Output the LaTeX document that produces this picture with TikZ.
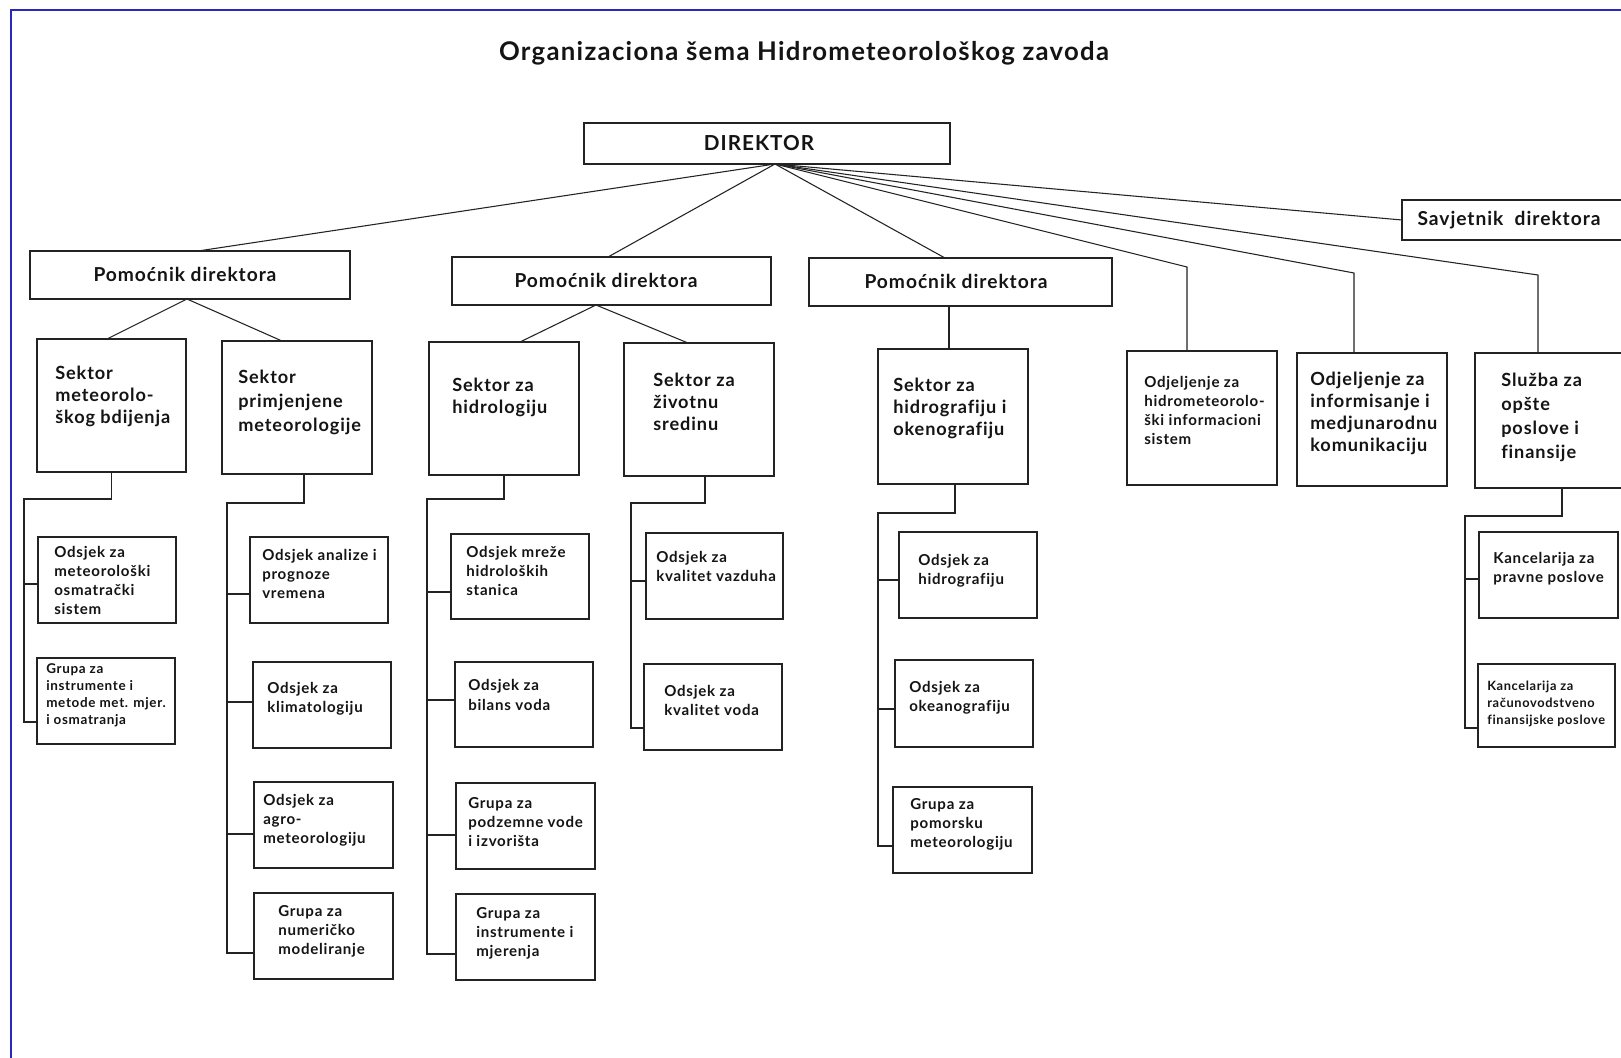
\documentclass[tikz,border=0pt]{standalone}
\usepackage{fontspec}
\setmainfont{Lato}[LetterSpace=5,Ligatures=CommonOff]
\usetikzlibrary{fit,calc}
\definecolor{linec}{RGB}{35,35,35}
\definecolor{txtc}{RGB}{20,20,20}
\definecolor{framec}{RGB}{40,40,190}
\newcommand\mlines[1]{\begin{tabular}[t]{@{}l@{}}#1\end{tabular}}
\newcommand\ftitle{\fontsize{19.3}{22}\selectfont\bfseries}
\newcommand\fdir{\fontsize{15.5}{18}\selectfont\bfseries}
\newcommand\fhead{\fontsize{14.4}{17}\selectfont\bfseries}
\newcommand\fbig{\fontsize{13.6}{16.5}\selectfont\bfseries}
\newcommand\fbigw{\fontsize{13.6}{18}\selectfont\bfseries}
\newcommand\fmed{\fontsize{11.3}{14.25}\selectfont\bfseries}
\newcommand\fmedw{\fontsize{11.3}{15.5}\selectfont\bfseries}
\newcommand\fsml{\fontsize{10.1}{12.75}\selectfont\bfseries}
\newcommand\fsmlx{\fontsize{9.6}{12.75}\selectfont\bfseries}
\tikzset{
  box/.style={draw=linec, line width=1.1pt, inner sep=0pt, outer sep=0pt},
  conn/.style={draw=linec, line width=0.9pt},
  thinconn/.style={draw=linec, line width=0.8pt},
  tx/.style={anchor=base west, inner sep=0pt, text=txtc},
  ctx/.style={anchor=base, inner sep=0pt, text=txtc},
}
\begin{document}
\begin{tikzpicture}[x=0.75pt,y=-0.75pt]
\useasboundingbox (0,0) rectangle (1621,1057);
\clip (0,0) rectangle (1621,1057);
\fill[white] (0,0) rectangle (1621,1057);
\draw[framec, line width=1.2pt] (11,1070) -- (11,10) -- (1640,10);

% title
\node[ctx, font=\ftitle] (title) at (804,60) {Organizaciona šema Hidrometeorološkog zavoda};

% top level boxes
\node[box, fit={(584,123) (950,164)}] (dir) {};
\node[ctx, font=\fdir] (t-dir) at (759,150) {DIREKTOR};
\node[box, fit={(1402,200) (1640,240)}] (sav) {};
\node[ctx, font=\fhead] (t-sav) at (1509,225) {Savjetnik\ \ direktora};

\node[box, fit={(30,251) (350,299)}] (p1) {};
\node[ctx, font=\fhead] (t-p1) at (185,281) {Pomoćnik direktora};
\node[box, fit={(452,257) (771,305)}] (p2) {};
\node[ctx, font=\fhead] (t-p2) at (606,287) {Pomoćnik direktora};
\node[box, fit={(809,258) (1112,306)}] (p3) {};
\node[ctx, font=\fhead] (t-p3) at (956,288) {Pomoćnik direktora};

% sectors
\node[box, fit={(37,339) (186,472)}] (smet) {};
\node[tx, font=\fbig] (t-smet) at (55,379) {\mlines{Sektor\\meteorolo-\\škog bdijenja}};
\node[box, fit={(222,341) (372,474)}] (sprim) {};
\node[tx, font=\fbigw] (t-sprim) at (238,383) {\mlines{Sektor\\primjenjene\\meteorologije}};
\node[box, fit={(429,342) (579,475)}] (shid) {};
\node[tx, font=\fbig] (t-shid) at (452,391) {\mlines{Sektor za\\hidrologiju}};
\node[box, fit={(624,343) (774,476)}] (sziv) {};
\node[tx, font=\fbig] (t-sziv) at (653,386) {\mlines{Sektor za\\životnu\\sredinu}};
\node[box, fit={(878,349) (1028,484)}] (shgr) {};
\node[tx, font=\fbig] (t-shgr) at (893,391) {\mlines{Sektor za\\hidrografiju i\\okenografiju}};
\node[box, fit={(1127,351) (1277,485)}] (ohim) {};
\node[tx, font=\fmed] (t-ohim) at (1144,387) {\mlines{Odjeljenje za\\hidrometeorolo-\\ški informacioni\\sistem}};
\node[box, fit={(1297,353) (1447,486)}] (oinf) {};
\node[tx, font=\fbig] (t-oinf) at (1310,385) {\mlines{Odjeljenje za\\informisanje i\\medjunarodnu\\komunikaciju}};
\node[box, fit={(1475,353) (1640,488)}] (sluz) {};
\node[tx, font=\fbigw] (t-sluz) at (1501,386) {\mlines{Služba za\\opšte\\poslove i\\finansije}};

% sub units
\node[box, fit={(38,537) (176,623)}] (a1) {};
\node[tx, font=\fmed] (t-a1) at (54,557) {\mlines{Odsjek za\\meteorološki\\osmatrački\\sistem}};
\node[box, fit={(37,658) (175,744)}] (a2) {};
\node[tx, font=\fsml] (t-a2) at (46,673) {\mlines{Grupa za\\instrumente i\\metode met. mjer.\\i osmatranja}};

\node[box, fit={(250,537) (388,623)}] (b1) {};
\node[tx, font=\fmed] (t-b1) at (262,560) {\mlines{Odsjek analize i\\prognoze\\vremena}};
\node[box, fit={(253,662) (391,748)}] (b2) {};
\node[tx, font=\fmed] (t-b2) at (267,693) {\mlines{Odsjek za\\klimatologiju}};
\node[box, fit={(254,782) (393,868)}] (b3) {};
\node[tx, font=\fmed] (t-b3) at (263,805) {\mlines{Odsjek za\\agro-\\meteorologiju}};
\node[box, fit={(254,893) (393,979)}] (b4) {};
\node[tx, font=\fmed] (t-b4) at (278,916) {\mlines{Grupa za\\numeričko\\modeliranje}};

\node[box, fit={(451,534) (589,619)}] (c1) {};
\node[tx, font=\fmed] (t-c1) at (466,557) {\mlines{Odsjek mreže\\hidroloških\\stanica}};
\node[box, fit={(455,662) (593,747)}] (c2) {};
\node[tx, font=\fmedw] (t-c2) at (468,690) {\mlines{Odsjek za\\bilans voda}};
\node[box, fit={(456,783) (595,869)}] (c3) {};
\node[tx, font=\fmed] (t-c3) at (468,808) {\mlines{Grupa za\\podzemne vode\\i izvorišta}};
\node[box, fit={(456,894) (595,980)}] (c4) {};
\node[tx, font=\fmed] (t-c4) at (476,918) {\mlines{Grupa za\\instrumente i\\mjerenja}};

\node[box, fit={(646,533) (783,619)}] (d1) {};
\node[tx, font=\fmed] (t-d1) at (656,562) {\mlines{Odsjek za\\kvalitet vazduha}};
\node[box, fit={(644,664) (782,750)}] (d2) {};
\node[tx, font=\fmed] (t-d2) at (664,696) {\mlines{Odsjek za\\kvalitet voda}};

\node[box, fit={(899,532) (1037,618)}] (e1) {};
\node[tx, font=\fmed] (t-e1) at (918,565) {\mlines{Odsjek za\\hidrografiju}};
\node[box, fit={(895,660) (1033,747)}] (e2) {};
\node[tx, font=\fmed] (t-e2) at (909,692) {\mlines{Odsjek za\\okeanografiju}};
\node[box, fit={(893,787) (1032,873)}] (e3) {};
\node[tx, font=\fmed] (t-e3) at (910,809) {\mlines{Grupa za\\pomorsku\\meteorologiju}};

\node[box, fit={(1479,532) (1618,618)}] (f1) {};
\node[tx, font=\fmed] (t-f1) at (1493,563) {\mlines{Kancelarija za\\pravne poslove}};
\node[box, fit={(1478,664) (1615,747)}] (f2) {};
\node[tx, font=\fsmlx] (t-f2) at (1487,690) {\mlines{Kancelarija za\\računovodstveno\\finansijske poslove}};

% connectors from director
\coordinate (dirb) at ($(dir.south)+(8,0)$);
\draw[thinconn] (dirb) -- ($(p1.north)+(8,0)$);
\draw[thinconn] (dirb) -- ($(p2.north)+(-3.5,0)$);
\draw[thinconn] (dirb) -- ($(p3.north)+(-15.5,0)$);
\draw[thinconn] (dirb) -- ($(ohim.north)+(-15,-84)$) -- ($(ohim.north)+(-15,0)$);
\draw[thinconn] (dirb) -- ($(oinf.north)+(-18,-80)$) -- ($(oinf.north)+(-18,0)$);
\draw[thinconn] (dirb) -- ($(sluz.north)+(-19.5,-78)$) -- ($(sluz.north)+(-19.5,0)$);
\draw[thinconn] (dirb) -- (sav.west);

% assistants to sectors
\coordinate (p1b) at ($(p1.south)+(-3,0)$);
\draw[thinconn] ($(smet.north)+(-4.5,0)$) -- (p1b) -- ($(sprim.north)+(-15,0)$);
\coordinate (p2b) at ($(p2.south)+(-15.5,0)$);
\draw[thinconn] ($(shid.north)+(16,0)$) -- (p2b) -- ($(sziv.north)+(-11,0)$);
\draw[conn] ($(p3.south)+(-11.5,0)$) -- ($(shgr.north)+(-4,0)$);

% sector trees
\coordinate (a1c) at (24,584);
\coordinate (a2c) at (24,722);
\draw[conn] (smet.south) |- (24,499) -- (a2c) -- (a2c -| a2.west);
\draw[conn] (a1c) -- (a1c -| a1.west);

\coordinate (b1c) at (227,594);
\coordinate (b2c) at (227,702);
\coordinate (b3c) at (227,834);
\coordinate (b4c) at (227,953);
\draw[conn] ($(sprim.south)+(7,0)$) |- (227,503) -- (b4c) -- (b4c -| b4.west);
\draw[conn] (b1c) -- (b1c -| b1.west);
\draw[conn] (b2c) -- (b2c -| b2.west);
\draw[conn] (b3c) -- (b3c -| b3.west);

\coordinate (c1c) at (427,592);
\coordinate (c2c) at (427,700);
\coordinate (c3c) at (427,835);
\coordinate (c4c) at (427,954);
\draw[conn] (shid.south) |- (427,499) -- (c4c) -- (c4c -| c4.west);
\draw[conn] (c1c) -- (c1c -| c1.west);
\draw[conn] (c2c) -- (c2c -| c2.west);
\draw[conn] (c3c) -- (c3c -| c3.west);

\coordinate (d1c) at (631,581);
\coordinate (d2c) at (631,728);
\draw[conn] ($(sziv.south)+(6,0)$) |- (631,503) -- (d2c) -- (d2c -| d2.west);
\draw[conn] (d1c) -- (d1c -| d1.west);

\coordinate (e1c) at (878,580);
\coordinate (e2c) at (878,709);
\coordinate (e3c) at (878,846);
\draw[conn] ($(shgr.south)+(2,0)$) |- (878,513) -- (e3c) -- (e3c -| e3.west);
\draw[conn] (e1c) -- (e1c -| e1.west);
\draw[conn] (e2c) -- (e2c -| e2.west);

\coordinate (f1c) at (1465,579);
\coordinate (f2c) at (1465,728);
\draw[conn] ($(sluz.south)+(4.5,0)$) |- (1465,516) -- (f2c) -- (f2c -| f2.west);
\draw[conn] (f1c) -- (f1c -| f1.west);
\end{tikzpicture}
\end{document}
